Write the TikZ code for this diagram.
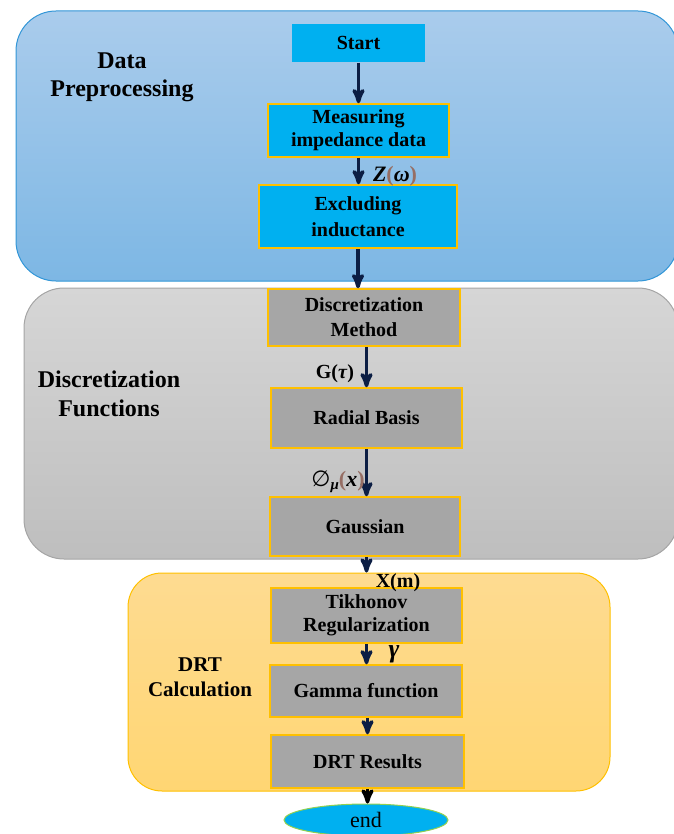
\documentclass[tikz,border=0pt]{standalone}
\usepackage{fontspec}
\setmainfont{Liberation Serif}
\newfontfamily\symfont{DejaVu Sans}
\usetikzlibrary{arrows,shapes.geometric}

\definecolor{boxblue}{RGB}{0,176,240}
\definecolor{boxgray}{RGB}{166,166,166}
\definecolor{boxgold}{RGB}{255,192,0}
\definecolor{arrownavy}{RGB}{12,30,68}
\definecolor{parenbrown}{RGB}{150,110,100}
\definecolor{endgreen}{RGB}{146,208,80}

\tikzset{
  flownode/.style = {align=center, inner sep=0pt, text centered,
    font=\fontsize{20}{23}\selectfont\bfseries},
  fl_b/.style = {flownode, fill=boxblue, draw=boxgold, line width=1.5pt},% bloc bleu
  fl_g/.style = {flownode, fill=boxgray, draw=boxgold, line width=1.5pt},% bloc gris
  region/.style = {rectangle, rounded corners=40pt, line width=1pt},
  reg_b/.style = {region, top color={rgb,255:red,170;green,204;blue,236},
    bottom color={rgb,255:red,125;green,183;blue,228},
    draw={rgb,255:red,50;green,150;blue,215}},% zone bleue
  reg_g/.style = {region, top color={rgb,255:red,214;green,214;blue,214},
    bottom color={rgb,255:red,190;green,190;blue,190},
    draw={rgb,255:red,165;green,165;blue,165}},% zone grise
  reg_o/.style = {region, rounded corners=34pt,
    top color={rgb,255:red,254;green,219;blue,145},
    bottom color={rgb,255:red,255;green,214;blue,115}, draw=boxgold},% zone orange
  reg_t/.style = {align=center, inner sep=0pt,
    font=\fontsize{24}{28}\selectfont\bfseries},% titre de zone
  lbl/.style = {inner sep=0pt, font=\fontsize{22}{24}\selectfont\bfseries},
  arr/.style = {line width=3.5pt, draw=arrownavy}
}

\newcommand{\bp}[1]{{\color{parenbrown}#1}}

\begin{document}
\begin{tikzpicture}[->,>=stealth',x=1pt,y=-1pt]
\useasboundingbox (0,0) rectangle (673,834);

% zones
\node [reg_b, minimum width=662pt, minimum height=270pt] (prep) at (347,146) {};
\node [reg_g, minimum width=654pt, minimum height=271pt] (disc) at (351,423.5) {};
\node [reg_o, minimum width=482pt, minimum height=218pt] (calc) at (369,682) {};

\node [reg_t] (prept) at (122,77) {Data\\Preprocessing};
\node [reg_t, font=\fontsize{24}{29}\selectfont\bfseries] (disct) at (109,394)
  {Discretization\\Functions};
\node [reg_t, font=\fontsize{21}{25}\selectfont\bfseries] (calct) at (200,677)
  {DRT\\Calculation};

% blocs
\node [fl_b, draw=none, minimum width=133pt, minimum height=38pt] (start) at (358.5,43) {Start};
\node [fl_b, minimum width=181pt, minimum height=53pt] (meas) at (358.5,130.5)
  {Measuring\\impedance data};
\node [fl_b, font=\fontsize{20}{26}\selectfont\bfseries,
  minimum width=198pt, minimum height=63pt] (excl) at (358,216.5)
  {Excluding\\inductance};
\node [fl_g, font=\fontsize{20}{25}\selectfont\bfseries,
  minimum width=192pt, minimum height=57pt] (meth) at (364,317.5)
  {Discretization\\Method};
\node [fl_g, minimum width=191pt, minimum height=60pt] (radial) at (366.5,418) {Radial Basis};
\node [fl_g, minimum width=190pt, minimum height=59pt] (gauss) at (365,526.5) {Gaussian};
\node [fl_g, minimum width=191pt, minimum height=55pt] (tikh) at (366.5,615.5)
  {Tikhonov\\Regularization};
\node [fl_g, minimum width=192pt, minimum height=52pt] (gamma) at (366,691) {Gamma function};
\node [fl_g, minimum width=193pt, minimum height=53pt] (result) at (367.5,761.5) {DRT Results};
\node [ellipse, fill=boxblue, draw=endgreen, line width=1pt, inner sep=0pt,
  minimum width=164pt, minimum height=32pt,
  font=\fontsize{22}{22}\selectfont] (end) at (366,820) {end};

% fleches
\draw [arr] (start.south) -- (start.south |- meas.north);
\draw [arr] (meas.south) -- (meas.south |- excl.north);
\draw [arr] (excl.south) -- (excl.south |- meth.north);
\draw [arr] (radial.north |- meth.south) -- (radial.north);
\draw [arr] (radial.south) -- (radial.south |- gauss.north);
\draw [arr] (tikh.north |- gauss.south) -- (tikh.north |- calc.north);
\draw [arr] (tikh.south) -- (tikh.south |- gamma.north);
\draw [arr] (result.north |- gamma.south) -- (result.north);
\draw [arr, draw=black] (result.south) -- (result.south |- end.north);

% etiquettes
\node [lbl] (zw) at (395,176) {\textit{Z}\bp{(}\textit{ω}\bp{)}};
\node [lbl, font=\fontsize{20}{22}\selectfont\bfseries] (gt) at (335,374) {G(\textit{τ})};
\node [lbl] (phi) at (338,482) {{\symfont\mdseries ∅}\raisebox{-0.35ex}{\fontsize{15}{15}\selectfont\itshape μ}\bp{(}\textit{x}\bp{)}};
\node [lbl, font=\fontsize{20}{22}\selectfont\bfseries] (xm) at (398,583) {X(m)};
\node [lbl, font=\fontsize{26}{26}\selectfont\bfseries] (gam) at (394,654) {\textit{γ}};
\end{tikzpicture}
\end{document}
